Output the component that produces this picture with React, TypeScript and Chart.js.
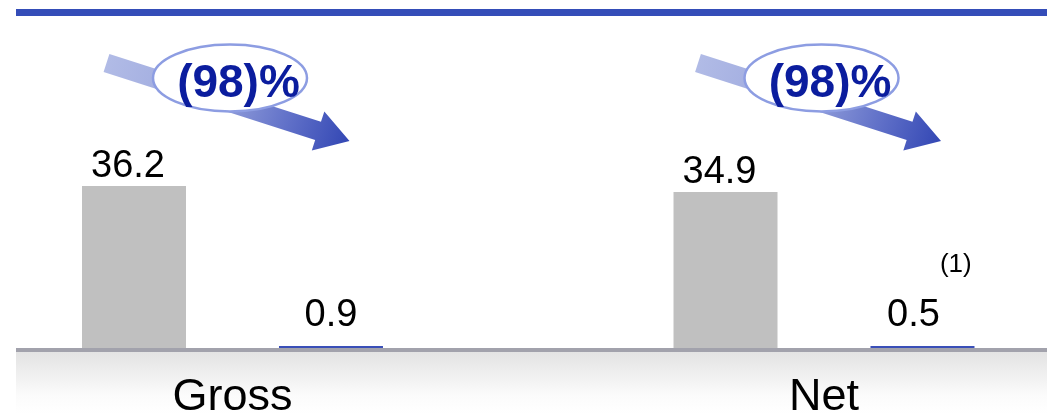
import React, { useEffect, useRef } from "react";
import { Chart, registerables } from "chart.js";

Chart.register(...registerables);

const categories = ["Gross", "Net"];
const priorValues = [36.2, 34.9];
const currentValues = [0.9, 0.5];
const priorLabels = ["36.2", "34.9"];
const currentLabels = ["0.9", "0.5"];
const changeLabels = ["(98)%", "(98)%"];
const footnotes = ["", "(1)"];

const FONT = "'Liberation Sans', Arial, Helvetica, sans-serif";
const GRAY = "#c0c0c0";
const BLUE = "#3a4fb8";

const decorPlugin = {
  id: "decor",
  beforeDraw(chart: any) {
    const { ctx, chartArea: ca, width, height } = chart;
    ctx.save();
    // top rule
    ctx.fillStyle = "#344db8";
    ctx.fillRect(ca.left, 9, width - ca.left, 7);
    // floor band
    const g = ctx.createLinearGradient(0, ca.bottom + 2, 0, height);
    g.addColorStop(0, "#e3e3e3");
    g.addColorStop(0.7, "#fbfbfb");
    g.addColorStop(1, "#ffffff");
    ctx.fillStyle = g;
    ctx.fillRect(ca.left, ca.bottom + 2, width - ca.left, height - ca.bottom - 2);
    ctx.restore();
  },
  afterDatasetsDraw(chart: any) {
    const { ctx, chartArea: ca, width } = chart;
    ctx.save();
    // baseline
    ctx.fillStyle = "#a2a2ac";
    ctx.fillRect(ca.left, ca.bottom - 2, width - ca.left, 4);

    // value labels
    ctx.fillStyle = "#000";
    ctx.textAlign = "center";
    ctx.textBaseline = "alphabetic";
    ctx.font = `38px ${FONT}`;
    const m0 = chart.getDatasetMeta(0);
    const m1 = chart.getDatasetMeta(1);
    m0.data.forEach((el: any, i: number) => {
      ctx.fillText(priorLabels[i], el.x - 6, el.y - 9);
    });
    m1.data.forEach((el: any, i: number) => {
      const lx = el.x - (i === 1 ? 9 : 0);
      const ly = el.y - 20;
      ctx.font = `38px ${FONT}`;
      ctx.textAlign = "center";
      ctx.fillText(currentLabels[i], lx, ly);
      if (footnotes[i]) {
        const w = ctx.measureText(currentLabels[i]).width;
        ctx.font = `26px ${FONT}`;
        ctx.textAlign = "left";
        ctx.fillText(footnotes[i], lx + w / 2, ly - 54);
      }
    });

    // change arrows with ellipse badges
    const xs = chart.scales.x;
    categories.forEach((_, i) => {
      const cx = xs.getPixelForValue(i);
      const sx = cx - 126, sy = ca.top + 30;
      const tx = cx + 117, ty = ca.top + 108;
      const dx = tx - sx, dy = ty - sy;
      const len = Math.hypot(dx, dy);
      const ux = dx / len, uy = dy / len;
      const px = -uy, py = ux;
      const hw = 9.5, headLen = 33, headHW = 20.5;
      const bx = tx - ux * headLen, by = ty - uy * headLen;
      const grad = ctx.createLinearGradient(sx, sy, tx, ty);
      grad.addColorStop(0, "#b1bbe6");
      grad.addColorStop(0.45, "#98a4dc");
      grad.addColorStop(0.75, "#6070c8");
      grad.addColorStop(1, "#3347b4");
      ctx.fillStyle = grad;
      ctx.beginPath();
      ctx.moveTo(sx + px * hw, sy + py * hw);
      ctx.lineTo(bx + px * hw, by + py * hw);
      ctx.lineTo(bx + px * headHW, by + py * headHW);
      ctx.lineTo(tx, ty);
      ctx.lineTo(bx - px * headHW, by - py * headHW);
      ctx.lineTo(bx - px * hw, by - py * hw);
      ctx.lineTo(sx - px * hw, sy - py * hw);
      ctx.closePath();
      ctx.fill();

      // ellipse
      const ex = cx - 2.5, ey = ca.top + 45;
      ctx.beginPath();
      ctx.ellipse(ex, ey, 77, 33.5, 0, 0, Math.PI * 2);
      ctx.fillStyle = "#ffffff";
      ctx.fill();
      ctx.lineWidth = 2.5;
      ctx.strokeStyle = "#8d9de2";
      ctx.stroke();

      ctx.fillStyle = "#0b1d9e";
      ctx.font = `bold 46px ${FONT}`;
      ctx.textAlign = "center";
      ctx.textBaseline = "alphabetic";
      ctx.fillText(changeLabels[i], cx + 6, ca.top + 64);
    });
    ctx.restore();
  },
};

export default function App() {
  const ref = useRef<HTMLCanvasElement | null>(null);
  useEffect(() => {
    if (!ref.current) return;
    const chart = new Chart(ref.current, {
      type: "bar",
      data: {
        datasets: [
          {
            label: "Prior",
            data: priorValues.map((v, i) => ({ x: i, y: v })),
            backgroundColor: GRAY,
            borderWidth: 0,
          },
          {
            label: "Current",
            data: currentValues.map((v, i) => ({ x: i, y: v })),
            backgroundColor: BLUE,
            borderWidth: 0,
            minBarLength: 4,
          },
        ],
      },
      options: {
        animation: false,
        responsive: true,
        maintainAspectRatio: false,
        layout: { padding: { top: 33, left: 16, right: 0, bottom: 0 } },
        categoryPercentage: 0.666,
        barPercentage: 0.528,
        plugins: { legend: { display: false }, tooltip: { enabled: false } },
        scales: {
          x: {
            type: "linear",
            min: -0.366,
            max: 1.377,
            offset: false,
            grid: { display: false },
            border: { display: false },
            afterBuildTicks: (scale: any) => {
              scale.ticks = categories.map((_, i) => ({ value: i }));
            },
            afterFit: (scale: any) => {
              scale.height = 64;
            },
            ticks: {
              autoSkip: false,
              maxRotation: 0,
              padding: 17,
              color: "#000",
              font: { family: FONT, size: 45, lineHeight: 1 },
              callback: (v: any) => categories[Math.round(Number(v))] ?? "",
            },
          },
          y: {
            display: false,
            min: 0,
            max: 70,
          },
        },
      } as any,
      plugins: [decorPlugin],
    });
    return () => chart.destroy();
  }, []);
  return (
    <div style={{ position: "fixed", left: 0, top: 0, width: 1047, height: 414, background: "#fff" }}>
      <canvas ref={ref} />
    </div>
  );
}
